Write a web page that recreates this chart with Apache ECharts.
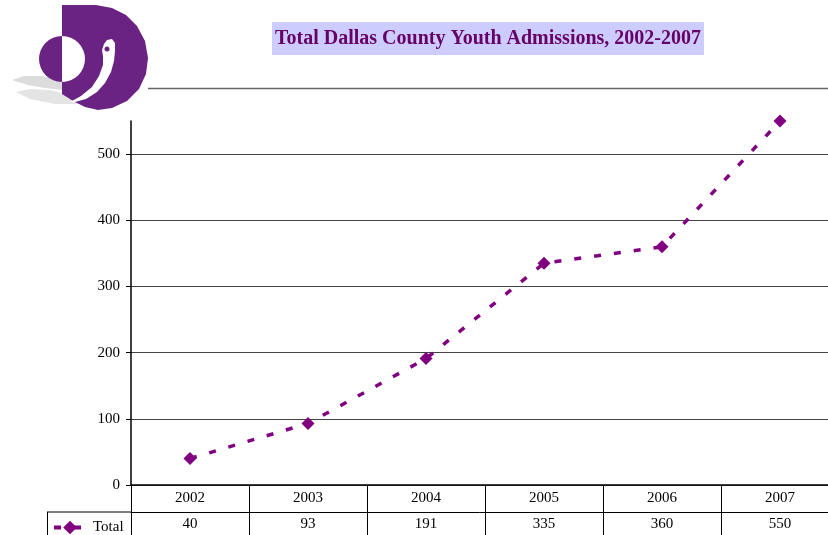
<!DOCTYPE html>
<html>
<head>
<meta charset="utf-8">
<script src="https://cdn.jsdelivr.net/npm/echarts@6/dist/echarts.min.js"></script>
<style>
  html, body { margin: 0; padding: 0; background: #fff; }
  #chart { width: 828px; height: 535px; }
</style>
</head>
<body>
<div id="chart"></div>
<script>
  // data
  const years = ['2002', '2003', '2004', '2005', '2006', '2007'];
  const totals = [40, 93, 191, 335, 360, 550];
  const yTicks = [0, 100, 200, 300, 400, 500];

  const purple = '#800080';
  const logoPurple = '#6a2383';
  const serif = 'Liberation Serif';

  const chart = echarts.init(document.getElementById('chart'));

  chart.setOption({
    animation: false,
    title: {
      text: 'Total Dallas County Youth Admissions, 2002-2007',
      left: 272,
      top: 22,
      padding: [6, 3, 6, 3],
      backgroundColor: '#ccccff',
      textStyle: {
        fontFamily: serif,
        fontWeight: 'bold',
        fontSize: 20,
        lineHeight: 21,
        color: '#660066'
      }
    },
    legend: {
      data: ['Total'],
      left: 47,
      top: 515,
      itemWidth: 32,
      itemHeight: 17,
      lineStyle: { width: 4 },
      textStyle: { fontFamily: serif, fontSize: 15, color: '#000', padding: [0, 0, 0, 2] }
    },
    // the table runs past the right edge of the picture
    grid: { left: 131, top: 121, right: -11, bottom: 50, outerBoundsMode: 'none' },
    xAxis: [
      {
        type: 'category',
        data: years,
        boundaryGap: true,
        axisLine: { lineStyle: { color: '#000', width: 1.5 } },
        axisTick: { show: true, length: 50, interval: 0, lineStyle: { color: '#000', width: 1 } },
        axisLabel: { margin: 6, fontFamily: serif, fontSize: 15, color: '#000' }
      },
      {
        type: 'category',
        data: totals.map(String),
        position: 'bottom',
        offset: 27,
        axisLine: { lineStyle: { color: '#000', width: 1 } },
        axisTick: { show: false },
        axisLabel: { margin: 5, fontFamily: serif, fontSize: 15, color: '#000' }
      }
    ],
    yAxis: {
      type: 'value',
      min: 0,
      max: 550,
      interval: 100,
      axisLine: { show: true, lineStyle: { color: '#000', width: 1.5 } },
      axisTick: { show: true, length: 5, customValues: yTicks, lineStyle: { color: '#000' } },
      axisLabel: { margin: 11, customValues: yTicks, fontFamily: serif, fontSize: 15, color: '#000' },
      splitLine: { show: true, lineStyle: { color: '#444', width: 1 } }
    },
    series: [
      {
        name: 'Total',
        type: 'line',
        data: totals,
        clip: false,
        symbol: 'diamond',
        symbolSize: 13,
        itemStyle: { color: purple },
        lineStyle: { color: purple, width: 3.5, type: [7, 13] }
      }
    ],
    graphic: [
      // table edge for the legend cell
      { type: 'line', shape: { x1: 47, y1: 512, x2: 131, y2: 512 }, style: { stroke: '#000', lineWidth: 1 } },
      { type: 'line', shape: { x1: 47.5, y1: 512, x2: 47.5, y2: 535 }, style: { stroke: '#000', lineWidth: 1 } },
      // rule under the title
      { type: 'line', shape: { x1: 148, y1: 88.5, x2: 828, y2: 88.5 }, style: { stroke: '#666', lineWidth: 1.5 } },
      // logo: shadow
      { type: 'polygon', shape: { points: [[12, 80], [24, 76], [42, 76], [62, 80], [62, 90], [45, 88], [28, 85]] }, style: { fill: '#dcdcdc' } },
      { type: 'polygon', shape: { points: [[16, 92], [30, 89], [50, 90], [66, 94], [80, 104], [55, 104], [30, 99]] }, style: { fill: '#e4e4e4' } },
      // logo: D body
      {
        type: 'polygon',
        shape: { points: [[62, 5], [96, 5], [112, 8], [126, 15], [137, 26], [145, 41], [148, 58], [146, 74], [139, 89], [127, 101], [112, 108], [98, 110], [85, 107], [73, 101], [62, 94]] },
        style: { fill: logoPurple }
      },
      // logo: half discs
      { type: 'sector', shape: { cx: 62, cy: 59, r: 23, startAngle: Math.PI / 2, endAngle: Math.PI * 1.5 }, style: { fill: logoPurple } },
      { type: 'sector', shape: { cx: 62, cy: 59, r: 23, startAngle: -Math.PI / 2, endAngle: Math.PI / 2 }, style: { fill: '#fff' } },
      // logo: white swoosh
      {
        type: 'polygon',
        shape: { points: [[104, 44], [107, 40], [112, 39], [115, 43], [115, 51], [114, 61], [111, 72], [105, 83], [97, 92], [86, 99], [75, 102], [70, 102], [81, 96], [92, 87], [99, 76], [103, 65], [103, 56], [102, 50]] },
        style: { fill: '#fff' }
      },
      { type: 'circle', shape: { cx: 107, cy: 49, r: 2.5 }, style: { fill: logoPurple } }
    ]
  });
</script>
</body>
</html>
